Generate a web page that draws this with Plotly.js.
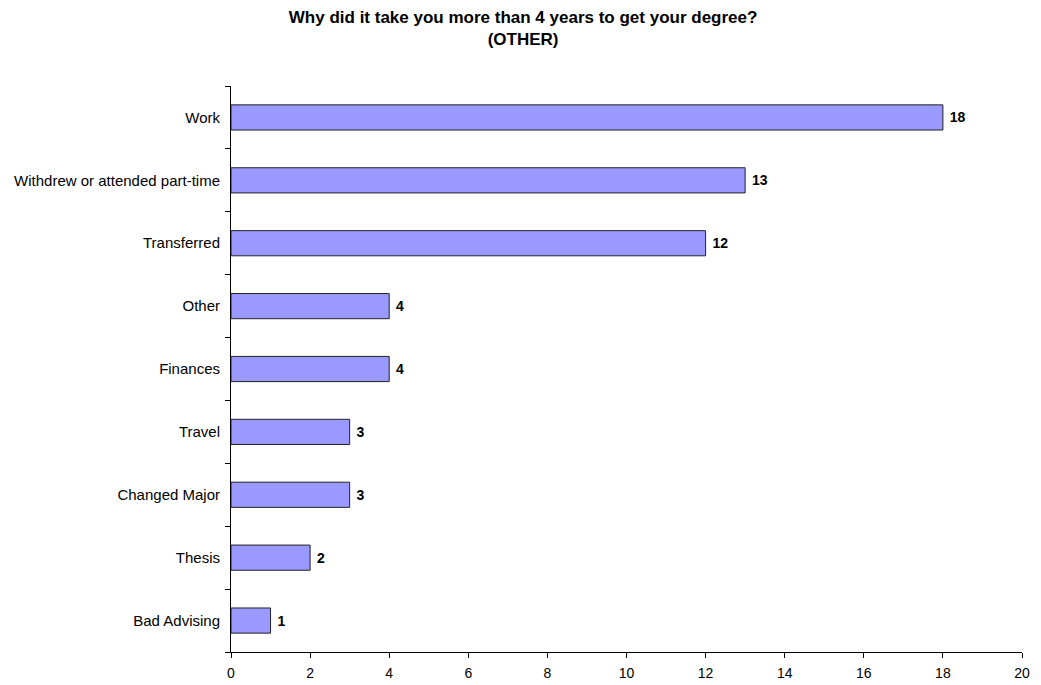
<!DOCTYPE html>
<html>
<head>
<meta charset="utf-8">
<script src="https://cdn.plot.ly/plotly-3.0.1.min.js"></script>
<style>html,body{margin:0;padding:0;background:#fff;}#chart{width:1041px;height:685px;}</style>
</head>
<body>
<div id="chart"></div>
<script>
const categories = ["Work", "Withdrew or attended part-time", "Transferred", "Other", "Finances", "Travel", "Changed Major", "Thesis", "Bad Advising"];
const values = [18, 13, 12, 4, 4, 3, 3, 2, 1];
const xTicks = [0, 2, 4, 6, 8, 10, 12, 14, 16, 18, 20];

const trace = {
  type: "bar",
  orientation: "h",
  y: categories,
  x: values,
  width: 0.4,
  marker: {color: "#9999FF", line: {color: "#222222", width: 1}},
  text: values.map(v => " " + v),
  textposition: "outside",
  cliponaxis: false,
  textfont: {family: "Liberation Sans, Arial, sans-serif", size: 14, color: "#000", weight: "bold"},
  hoverinfo: "none"
};

const layout = {
  width: 1041, height: 685,
  margin: {l: 231, r: 19, t: 86, b: 33},
  paper_bgcolor: "#fff", plot_bgcolor: "#fff",
  font: {family: "Liberation Sans, Arial, sans-serif", size: 14, color: "#000"},
  title: {
    text: "<b>Why did it take you more than 4 years to get your degree?<br>(OTHER)</b>",
    font: {size: 17, color: "#000"},
    x: 0.5025, xanchor: "center", y: 0.967, yanchor: "middle"
  },
  xaxis: {
    range: [0, 20], tickvals: xTicks, ticktext: xTicks.map(String),
    showgrid: false, zeroline: false, showline: true, linecolor: "#000", linewidth: 1,
    ticks: "outside", ticklen: 5, tickcolor: "#000", tickfont: {size: 14},
    ticklabelstandoff: 3,
    fixedrange: true
  },
  yaxis: {
    type: "category", categoryorder: "array", categoryarray: categories.slice().reverse(),
    tickson: "boundaries", ticks: "outside", ticklen: 5, tickcolor: "#000",
    showline: true, linecolor: "#000", linewidth: 1, showgrid: false, zeroline: false,
    tickfont: {size: 15}, ticklabelstandoff: 7,
    range: [-0.5, 8.5], fixedrange: true
  },
  showlegend: false,
  bargap: 0.6
};

Plotly.newPlot("chart", [trace], layout, {displayModeBar: false, staticPlot: true});
</script>
</body>
</html>
